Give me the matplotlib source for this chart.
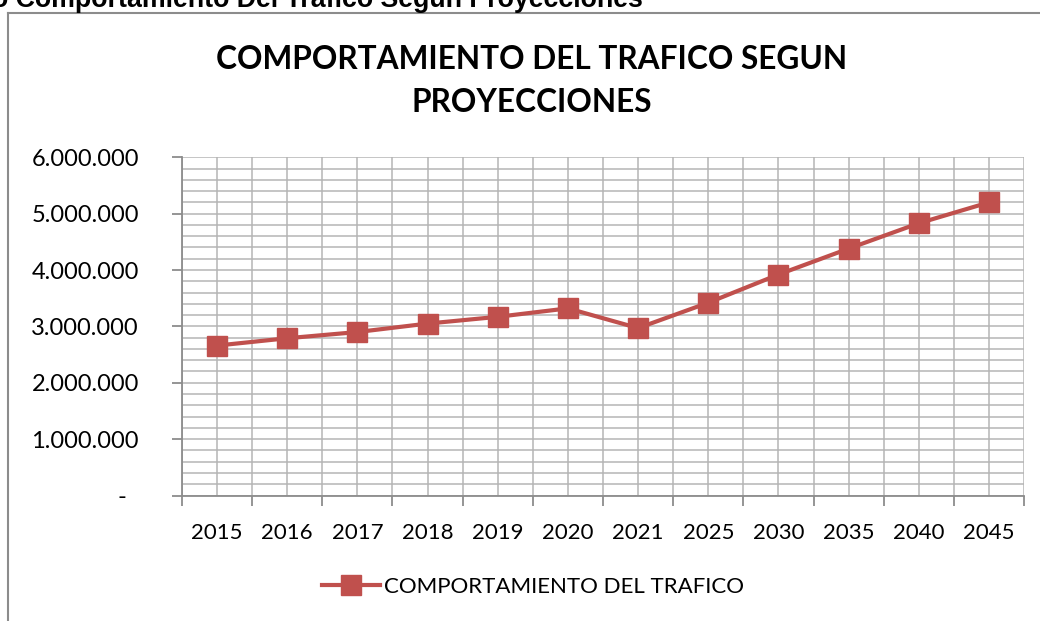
import matplotlib
matplotlib.use("Agg")
import matplotlib.pyplot as plt
from matplotlib.ticker import MultipleLocator, FuncFormatter
import numpy as np

years = ["2015", "2016", "2017", "2018", "2019", "2020", "2021",
         "2025", "2030", "2035", "2040", "2045"]
traffic = [2660000, 2790000, 2900000, 3050000, 3170000, 3320000, 2970000,
           3420000, 3920000, 4380000, 4830000, 5200000]
series_name = "COMPORTAMIENTO DEL TRAFICO"
chart_title = "COMPORTAMIENTO DEL TRAFICO SEGUN\nPROYECCIONES"
page_caption = "o Comportamiento Del Trafico Segun Proyecciones"

W, H = 1040, 621
fig = plt.figure(figsize=(W / 100, H / 100), dpi=100)
fig.patch.set_facecolor("white")

FONT = "Lato"
RED = "#C0504D"
GRID = "#B5B5B5"

# plot area
left, right = 182 / W, 1024 / W
bottom, top = 1 - 495.5 / H, 1 - 157.3 / H
ax = fig.add_axes([left, bottom, right - left, top - bottom])

x = np.arange(len(years))
ax.plot(x, traffic, color=RED, lw=3, marker="s", markersize=14.5,
        markerfacecolor=RED, markeredgecolor=RED, label=series_name,
        solid_joinstyle="round", zorder=3)

ax.set_xlim(-0.5, len(years) - 0.5)
ax.set_ylim(0, 6000000)

# y axis
ax.yaxis.set_major_locator(MultipleLocator(1000000))
ax.yaxis.set_minor_locator(MultipleLocator(200000))
def yfmt(v, pos):
    if abs(v) < 1:
        return "-  "
    return f"{int(round(v)):,}".replace(",", ".")
ax.yaxis.set_major_formatter(FuncFormatter(yfmt))

# x axis: ticks at category boundaries, labels at centers
ax.set_xticks(np.arange(-0.5, len(years), 1.0))
ax.set_xticklabels([])
ax.set_xticks(x, minor=True)
ax.set_xticklabels(years, minor=True)

ax.grid(True, which="both", axis="both", color=GRID, lw=1.1, zorder=0)
ax.set_axisbelow(True)

for s in ["top", "right"]:
    ax.spines[s].set_visible(False)
for s in ["left", "bottom"]:
    ax.spines[s].set_color("#8C8C8C")
    ax.spines[s].set_linewidth(1.3)

ax.tick_params(axis="y", which="major", length=7, width=1.3, color="#8C8C8C",
               labelsize=17, pad=24, labelcolor="black")
ax.tick_params(axis="y", which="minor", length=0)
ax.tick_params(axis="x", which="major", length=7, width=1.3, color="#8C8C8C")
ax.tick_params(axis="x", which="minor", length=0, labelsize=16, pad=19.5,
               labelcolor="black")
for lab in ax.get_yticklabels() + ax.get_xticklabels(minor=True):
    lab.set_fontfamily(FONT)

# chart title
fig.text(532 / W, 1 - 81 / H, chart_title, ha="center", va="center",
         fontsize=22.8, fontweight="bold", fontfamily=FONT, linespacing=1.55)

# legend
leg = ax.legend(loc="center", bbox_to_anchor=(533 / W, 1 - 587 / H),
                bbox_transform=fig.transFigure, frameon=False,
                prop={"family": FONT, "size": 16}, handlelength=2.6,
                handletextpad=0.15, markerscale=1.0)

# page caption (cut off on the left and top, as in the source page)
fig.text(643 / W, 1 - 7 / H, page_caption, ha="right", va="baseline",
         fontsize=19.3, fontweight="bold", fontfamily="Liberation Sans")

# chart frame
fig.add_artist(plt.Line2D([7.5 / W, 7.5 / W], [0, 1 - 12.5 / H],
                          transform=fig.transFigure, color="#8C8C8C", lw=1.5))
fig.add_artist(plt.Line2D([7.5 / W, 1], [1 - 12.5 / H, 1 - 12.5 / H],
                          transform=fig.transFigure, color="#8C8C8C", lw=1.5))

fig.savefig("out.png", dpi=100, facecolor="white")
